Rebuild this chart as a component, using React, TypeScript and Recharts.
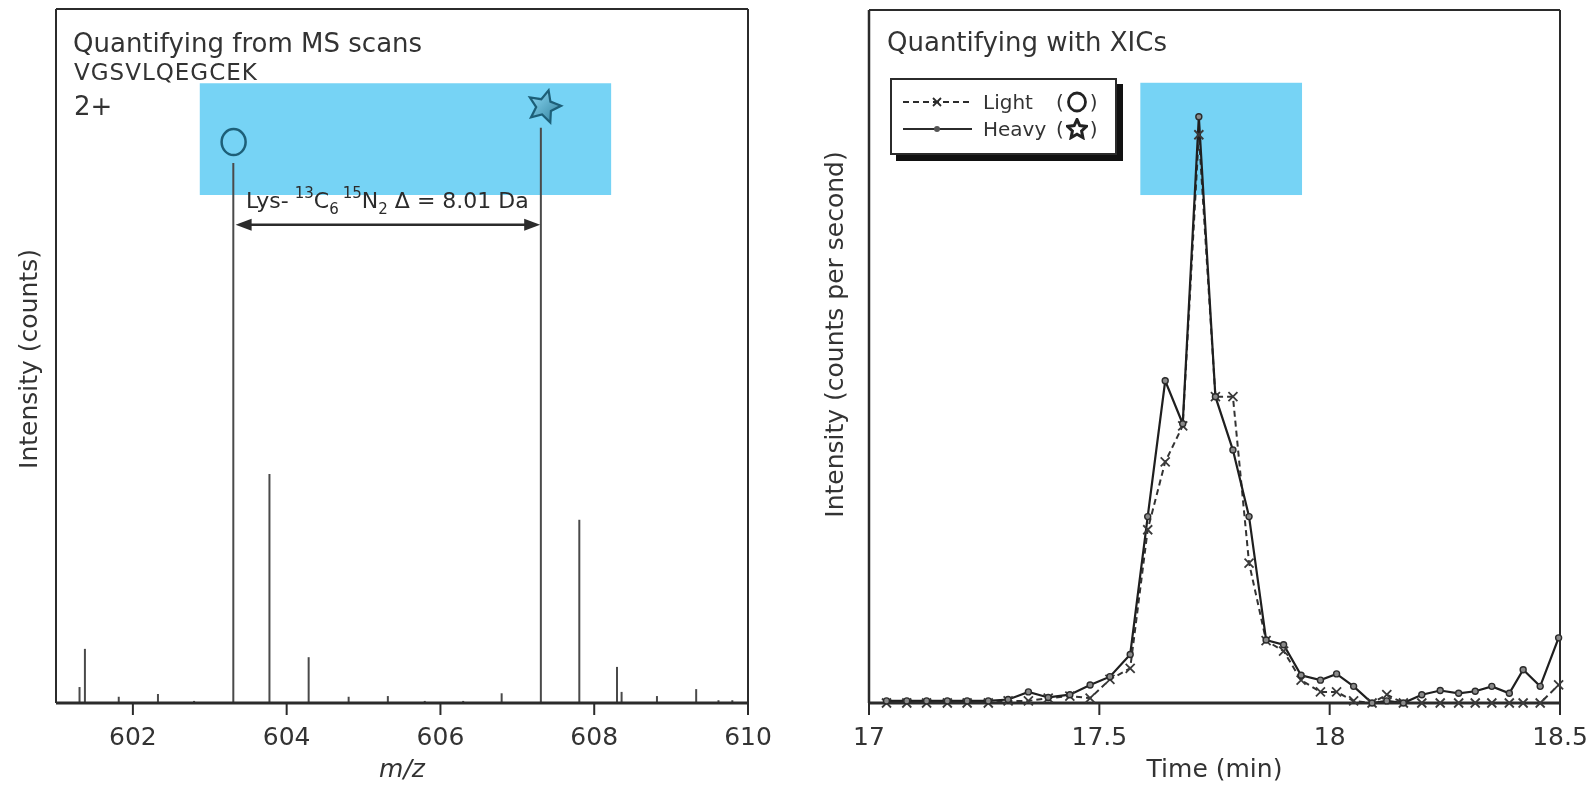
import React from 'react';
import {
  ComposedChart,
  LineChart,
  Bar,
  Line,
  Scatter,
  XAxis,
  YAxis,
  ReferenceLine,
  ReferenceArea,
  Legend,
} from 'recharts';

const FONT = '"DejaVu Sans", sans-serif';
const INK = '#2b2b2b';
const HIGHLIGHT = '#76d3f5';

// --- MS scan (left panel) ---
const mzValues = [601.31, 601.38, 601.82, 602.33, 602.8, 603.31, 603.78, 604.29, 604.81, 605.32, 605.8, 606.3, 606.8, 607.31, 607.81, 608.3, 608.36, 608.82, 609.33, 609.62, 609.8];
const mzIntensity = [2.3, 7.8, 0.9, 1.3, 0.3, 77.8, 33.0, 6.6, 0.9, 1.0, 0.3, 0.3, 1.4, 82.9, 26.4, 5.2, 1.6, 1.0, 2.0, 0.4, 0.4];
const mzTicks = [602, 604, 606, 608, 610];
const lightPeakMz = 603.31;
const heavyPeakMz = 607.31;
const arrowLevel = 68.9;
const mzHighlight = { x1: 602.87, x2: 608.22, y1: 73.2, y2: 89.3 };

// --- XIC (right panel) ---
const timeValues = [17.038, 17.082, 17.125, 17.17, 17.213, 17.259, 17.302, 17.346, 17.389, 17.436, 17.48, 17.523, 17.567, 17.605, 17.643, 17.681, 17.716, 17.752, 17.79, 17.825, 17.862, 17.9, 17.938, 17.98, 18.015, 18.052, 18.092, 18.124, 18.16, 18.2, 18.24, 18.28, 18.316, 18.352, 18.39, 18.42, 18.457, 18.497];
const lightXic = [0, 0, 0, 0, 0, 0, 0.3, 0.3, 0.7, 1.0, 0.7, 3.4, 5.0, 25, 34.8, 40, 82, 44.2, 44.2, 20.2, 9.0, 7.5, 3.3, 1.6, 1.6, 0.3, 0, 1.2, 0, 0, 0, 0, 0, 0, 0, 0, 0, 2.6];
const heavyXic = [0.3, 0.3, 0.3, 0.3, 0.3, 0.3, 0.5, 1.6, 0.8, 1.2, 2.6, 3.8, 7.0, 26.9, 46.5, 40.3, 84.6, 44.2, 36.5, 26.9, 9.1, 8.4, 4.0, 3.3, 4.2, 2.4, 0, 0.3, 0, 1.2, 1.8, 1.4, 1.7, 2.4, 1.4, 4.8, 2.4, 9.4];
const timeTicks = [17, 17.5, 18, 18.5];
const seriesNames = ['Light', 'Heavy'];
const timeHighlight = { x1: 17.589, x2: 17.94, y1: 73.3, y2: 89.5 };

const spectrum = mzValues.map((mz, i) => ({ mz, intensity: mzIntensity[i] }));
const taggedPeaks = spectrum.filter((p) => p.mz === lightPeakMz || p.mz === heavyPeakMz);
const xicData = timeValues.map((t, i) => ({ t, light: lightXic[i], heavy: heavyXic[i] }));

const starPoints = (cx: number, cy: number, outer: number, inner: number, rot: number) => {
  const pts: string[] = [];
  for (let i = 0; i < 10; i++) {
    const r = i % 2 === 0 ? outer : inner;
    const a = (Math.PI / 5) * i - Math.PI / 2 + (rot * Math.PI) / 180;
    pts.push(`${(cx + r * Math.cos(a)).toFixed(1)},${(cy + r * Math.sin(a)).toFixed(1)}`);
  }
  return pts.join(' ');
};

// circle / star drawn just above the tagged peaks
const PeakMarker = (props: any) => {
  const { cx, cy, payload } = props;
  if (cx == null || cy == null) return <g />;
  const y = cy - 21;
  if (payload.mz === lightPeakMz) {
    return <ellipse cx={cx} cy={y} rx={12} ry={13} fill="none" stroke="#1d5f78" strokeWidth={2.5} />;
  }
  return (
    <g>
      <defs>
        <linearGradient id="starFill" x1="0" y1="0" x2="1" y2="1">
          <stop offset="0%" stopColor="#8fdcf7" />
          <stop offset="100%" stopColor="#2f7f9c" />
        </linearGradient>
      </defs>
      <polygon points={starPoints(cx + 3, y, 17, 8, 15)} fill="url(#starFill)" stroke="#1d5f78" strokeWidth={2.2} />
    </g>
  );
};

const MassShiftArrow = (props: any) => {
  const { x1, y1, x2 } = props;
  if (x1 == null) return <g />;
  const y = y1;
  const head = 16;
  const half = 6;
  return (
    <g>
      <line x1={x1 + head} y1={y} x2={x2 - head} y2={y} stroke={INK} strokeWidth={2.5} />
      <polygon points={`${x1 + 2},${y} ${x1 + 2 + head},${y - half} ${x1 + 2 + head},${y + half}`} fill={INK} />
      <polygon points={`${x2 - 1},${y} ${x2 - 1 - head},${y - half} ${x2 - 1 - head},${y + half}`} fill={INK} />
      <text x={(x1 + x2) / 2} y={y - 17} textAnchor="middle" fontFamily={FONT} fontSize={22} fill={INK}>
        Lys-
        <tspan dx={6} dy={-10} fontSize={15}>13</tspan>
        <tspan dy={10}>C</tspan>
        <tspan dy={6} fontSize={15}>6</tspan>
        <tspan dx={4} dy={-16} fontSize={15}>15</tspan>
        <tspan dy={10}>N</tspan>
        <tspan dy={6} fontSize={15}>2</tspan>
        <tspan dy={-6}> Δ = 8.01 Da</tspan>
      </text>
    </g>
  );
};

const Highlight = (props: any) => (
  <rect x={props.x} y={props.y} width={props.width} height={props.height} fill={HIGHLIGHT} style={{ mixBlendMode: 'multiply' }} />
);

const yLabel = (text: string, dy: number) => (props: any) => {
  const { viewBox } = props;
  const cx = viewBox.x + viewBox.width / 2;
  const cy = viewBox.y + viewBox.height / 2 + dy;
  return (
    <text x={cx} y={cy} transform={`rotate(-90 ${cx} ${cy})`} textAnchor="middle" dominantBaseline="central" fontFamily={FONT} fontSize={25} fill="#333">
      {text}
    </text>
  );
};

const xLabel = (text: string, italic: boolean) => (props: any) => {
  const { viewBox } = props;
  return (
    <text x={viewBox.x + viewBox.width / 2} y={viewBox.y + 74} textAnchor="middle" fontFamily={FONT} fontSize={25} fontStyle={italic ? 'italic' : 'normal'} fill="#333">
      {text}
    </text>
  );
};

const CrossDot = (props: any) => {
  const { cx, cy } = props;
  if (cx == null || cy == null) return <g />;
  const s = 4.5;
  return <path d={`M${cx - s},${cy - s}L${cx + s},${cy + s}M${cx - s},${cy + s}L${cx + s},${cy - s}`} stroke="#3a3a3a" strokeWidth={1.8} fill="none" />;
};

const RoundDot = (props: any) => {
  const { cx, cy } = props;
  if (cx == null || cy == null) return <g />;
  return <circle cx={cx} cy={cy} r={3} fill="#8a8a8a" stroke="#2b2b2b" strokeWidth={1.4} />;
};

const LegendSymbol = ({ name }: { name: string }) => (
  <svg width={22} height={22} style={{ display: 'inline-block', verticalAlign: '-4px', margin: '0 2px' }}>
    {name === 'Light' ? (
      <ellipse cx={11} cy={11} rx={8.5} ry={9} fill="none" stroke="#222" strokeWidth={2.8} />
    ) : (
      <polygon points={starPoints(11, 11.5, 10, 4.8, 0)} fill="#fff" stroke="#222" strokeWidth={3} />
    )}
  </svg>
);

const XicLegend = (props: any) => {
  const payload = [...(props.payload || [])].sort(
    (a: any, b: any) => seriesNames.indexOf(a.value) - seriesNames.indexOf(b.value),
  );
  return (
    <div
      style={{
        width: 227,
        height: 77,
        boxSizing: 'border-box',
        border: `2px solid ${INK}`,
        background: '#fff',
        boxShadow: '6px 6px 0 #111',
        position: 'relative',
        fontFamily: FONT,
        fontSize: 20,
        color: '#333',
      }}
    >
      {payload.map((entry: any, i: number) => {
        const light = entry.value === seriesNames[0];
        return (
          <div key={entry.value} style={{ position: 'absolute', left: 0, top: 10 + i * 27, width: '100%', height: 24 }}>
            <svg width={84} height={24} style={{ position: 'absolute', left: 0, top: 0 }}>
              <line x1={11} y1={12} x2={80} y2={12} stroke="#2b2b2b" strokeWidth={2} strokeDasharray={light ? '6 4' : undefined} />
              {light ? (
                <path d="M41,8L49,16M41,16L49,8" stroke="#2b2b2b" strokeWidth={1.8} />
              ) : (
                <circle cx={45} cy={12} r={3} fill="#555" />
              )}
            </svg>
            <span style={{ position: 'absolute', left: 91, top: 0, lineHeight: '24px', whiteSpace: 'nowrap' }}>{entry.value}</span>
            <span style={{ position: 'absolute', left: 164, top: 0, lineHeight: '24px', whiteSpace: 'nowrap' }}>
              (<LegendSymbol name={entry.value} />)
            </span>
          </div>
        );
      })}
    </div>
  );
};

const textStyle = (left: number, top: number, size: number, extra: React.CSSProperties = {}): React.CSSProperties => ({
  position: 'absolute',
  left,
  top,
  fontFamily: FONT,
  fontSize: size,
  lineHeight: 1,
  color: '#333',
  whiteSpace: 'nowrap',
  ...extra,
});

export default function App() {
  return (
    <div style={{ position: 'absolute', left: 0, top: 0, width: 1594, height: 787, background: '#fff', overflow: 'hidden' }}>
      <div style={{ position: 'absolute', left: 0, top: 0 }}>
        <ComposedChart width={800} height={787} data={spectrum} margin={{ top: 9, right: 52, bottom: 0, left: 0 }}>
          <XAxis
            dataKey="mz"
            type="number"
            domain={[601, 610]}
            ticks={mzTicks}
            interval={0}
            allowDataOverflow
            height={84}
            tickSize={12}
            tickMargin={12}
            axisLine={{ stroke: INK, strokeWidth: 3 }}
            tickLine={{ stroke: INK, strokeWidth: 2 }}
            tick={{ fontFamily: FONT, fontSize: 25, fill: '#333' }}
            label={xLabel('m/z', true)}
          />
          <YAxis
            type="number"
            domain={[0, 100]}
            width={56}
            tick={false}
            tickLine={false}
            axisLine={{ stroke: INK, strokeWidth: 2 }}
            label={yLabel('Intensity (counts)', 3)}
          />
          <ReferenceLine y={100} stroke={INK} strokeWidth={2} />
          <ReferenceLine x={610} stroke={INK} strokeWidth={2} />
          <ReferenceArea {...mzHighlight} shape={Highlight} />
          <Bar dataKey="intensity" barSize={2} fill="#4a4a4a" isAnimationActive={false} />
          <Scatter data={taggedPeaks} dataKey="intensity" shape={PeakMarker} isAnimationActive={false} />
          <ReferenceLine
            segment={[
              { x: lightPeakMz, y: arrowLevel },
              { x: heavyPeakMz, y: arrowLevel },
            ]}
            shape={MassShiftArrow}
          />
        </ComposedChart>
      </div>

      <div style={{ position: 'absolute', left: 800, top: 0 }}>
        <LineChart width={794} height={787} data={xicData} margin={{ top: 10, right: 34, bottom: 0, left: 0 }}>
          <XAxis
            dataKey="t"
            type="number"
            domain={[17, 18.5]}
            ticks={timeTicks}
            interval={0}
            height={84}
            tickSize={12}
            tickMargin={12}
            axisLine={{ stroke: INK, strokeWidth: 3 }}
            tickLine={{ stroke: INK, strokeWidth: 2 }}
            tick={{ fontFamily: FONT, fontSize: 25, fill: '#333' }}
            label={xLabel('Time (min)', false)}
          />
          <YAxis
            type="number"
            domain={[0, 100]}
            width={69}
            tick={false}
            tickLine={false}
            axisLine={{ stroke: INK, strokeWidth: 2.5 }}
            label={yLabel('Intensity (counts per second)', -22)}
          />
          <ReferenceLine y={100} stroke={INK} strokeWidth={2} />
          <ReferenceLine x={18.5} stroke={INK} strokeWidth={2} />
          <ReferenceArea {...timeHighlight} shape={Highlight} />
          <Line
            type="linear"
            dataKey="light"
            name={seriesNames[0]}
            stroke="#333"
            strokeWidth={2}
            strokeDasharray="6 4"
            dot={CrossDot}
            activeDot={false}
            isAnimationActive={false}
          />
          <Line
            type="linear"
            dataKey="heavy"
            name={seriesNames[1]}
            stroke="#1f1f1f"
            strokeWidth={2.2}
            dot={RoundDot}
            activeDot={false}
            isAnimationActive={false}
          />
          <Legend
            layout="horizontal"
            verticalAlign="middle"
            align="center"
            content={XicLegend}
            wrapperStyle={{ left: 90, top: 78, width: 240, height: 90 }}
          />
        </LineChart>
      </div>

      <div style={textStyle(73, 30, 26)}>Quantifying from MS scans</div>
      <div style={textStyle(74, 61, 23, { letterSpacing: 1 })}>VGSVLQEGCEK</div>
      <div style={textStyle(74, 93, 26)}>2+</div>
      <div style={textStyle(887, 29, 26)}>Quantifying with XICs</div>
    </div>
  );
}
